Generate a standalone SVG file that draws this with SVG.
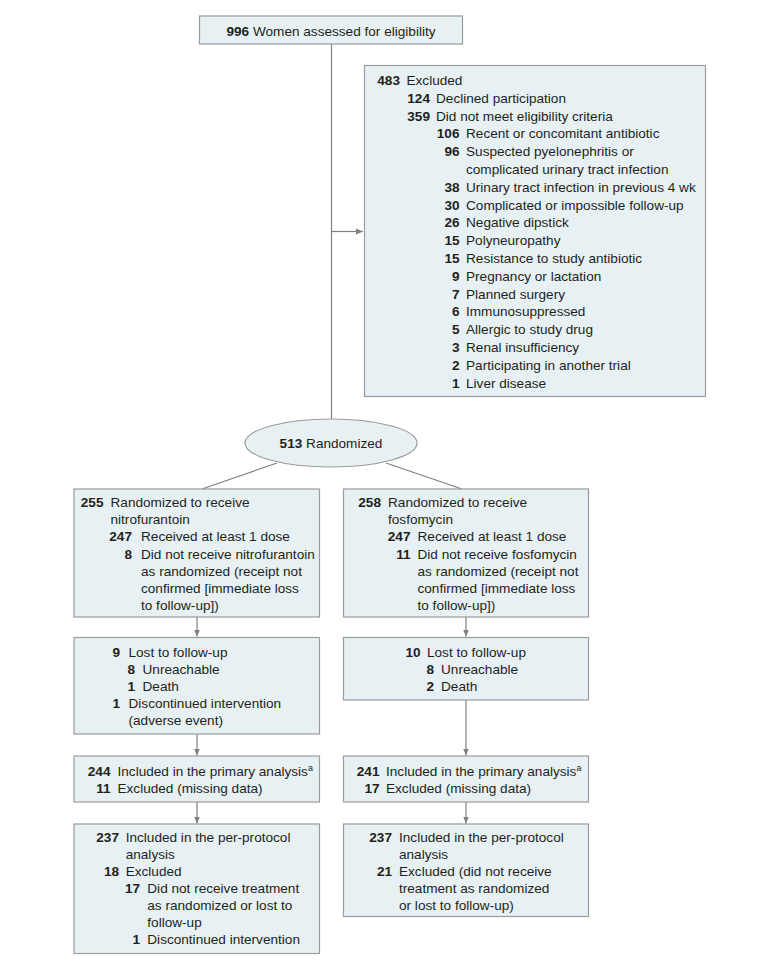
<svg xmlns="http://www.w3.org/2000/svg" width="780" height="966" viewBox="0 0 780 966">
<style>
.bx{fill:#e7f1f4;stroke:#9b9b9b;stroke-width:1.2}
.ln{stroke:#808080;stroke-width:1.2;fill:none}
text{font-family:"Liberation Sans",Arial,sans-serif;font-size:13.6px;fill:#231f20}
.n{font-weight:bold;text-anchor:end}
.c{text-anchor:middle}
.sup{font-size:9px}
</style>
<defs>
<marker id="ah" markerWidth="8" markerHeight="8" refX="7" refY="4" orient="auto" markerUnits="userSpaceOnUse">
<path d="M0,1 L7,4 L0,7 Z" fill="#808080"/>
</marker>
</defs>
<rect width="780" height="966" fill="#ffffff"/>
<g id="connectors">
<line class="ln" x1="331.5" y1="44" x2="331.5" y2="419"/>
<line class="ln" x1="331.5" y1="231.5" x2="363" y2="231.5" marker-end="url(#ah)"/>
<line class="ln" x1="277" y1="463" x2="202" y2="489"/>
<line class="ln" x1="386" y1="463" x2="462" y2="489"/>
<line class="ln" x1="197" y1="617" x2="197" y2="636.5" marker-end="url(#ah)"/>
<line class="ln" x1="197" y1="734" x2="197" y2="755.5" marker-end="url(#ah)"/>
<line class="ln" x1="197" y1="802" x2="197" y2="823.5" marker-end="url(#ah)"/>
<line class="ln" x1="466" y1="617" x2="466" y2="636.5" marker-end="url(#ah)"/>
<line class="ln" x1="466" y1="700" x2="466" y2="755.5" marker-end="url(#ah)"/>
<line class="ln" x1="466" y1="802" x2="466" y2="823.5" marker-end="url(#ah)"/>
</g>
<g id="assessed">
<rect class="bx" x="199.5" y="16" width="263" height="28"/>
<text class="c" x="331" y="35.5"><tspan font-weight="bold">996</tspan>  Women assessed for eligibility</text>
</g>
<g id="excluded">
<rect class="bx" x="364.5" y="65.5" width="341" height="331"/>
<text class="n" x="400" y="85">483</text><text x="406.5" y="85">Excluded</text>
<text class="n" x="430" y="102.8">124</text><text x="436" y="102.8">Declined participation</text>
<text class="n" x="430" y="120.6">359</text><text x="436" y="120.6">Did not meet eligibility criteria</text>
<text class="n" x="459.5" y="138.4">106</text><text x="466" y="138.4">Recent or concomitant antibiotic</text>
<text class="n" x="459.5" y="156.2">96</text><text x="466" y="156.2">Suspected pyelonephritis or</text>
<text x="466" y="174">complicated urinary tract infection</text>
<text class="n" x="459.5" y="191.8">38</text><text x="466" y="191.8">Urinary tract infection in previous 4 wk</text>
<text class="n" x="459.5" y="209.6">30</text><text x="466" y="209.6">Complicated or impossible follow-up</text>
<text class="n" x="459.5" y="227.4">26</text><text x="466" y="227.4">Negative dipstick</text>
<text class="n" x="459.5" y="245.2">15</text><text x="466" y="245.2">Polyneuropathy</text>
<text class="n" x="459.5" y="263">15</text><text x="466" y="263">Resistance to study antibiotic</text>
<text class="n" x="459.5" y="280.8">9</text><text x="466" y="280.8">Pregnancy or lactation</text>
<text class="n" x="459.5" y="298.6">7</text><text x="466" y="298.6">Planned surgery</text>
<text class="n" x="459.5" y="316.4">6</text><text x="466" y="316.4">Immunosuppressed</text>
<text class="n" x="459.5" y="334.2">5</text><text x="466" y="334.2">Allergic to study drug</text>
<text class="n" x="459.5" y="352">3</text><text x="466" y="352">Renal insufficiency</text>
<text class="n" x="459.5" y="369.8">2</text><text x="466" y="369.8">Participating in another trial</text>
<text class="n" x="459.5" y="387.6">1</text><text x="466" y="387.6">Liver disease</text>
</g>
<g id="randomized">
<ellipse class="bx" cx="331" cy="443" rx="86" ry="24"/>
<text class="c" x="331" y="447.5"><tspan font-weight="bold">513</tspan>  Randomized</text>
</g>
<g id="nitro-alloc">
<rect class="bx" x="74" y="489" width="245.5" height="128"/>
<text class="n" x="103.5" y="507">255</text><text x="110.5" y="507">Randomized to receive</text>
<text x="110.5" y="524.2">nitrofurantoin</text>
<text class="n" x="132" y="541.4">247</text><text x="141" y="541.4">Received at least 1 dose</text>
<text class="n" x="132" y="558.6">8</text><text x="141" y="558.6">Did not receive nitrofurantoin</text>
<text x="141" y="575.8">as randomized (receipt not</text>
<text x="141" y="593">confirmed [immediate loss</text>
<text x="141" y="610.2">to follow-up])</text>
</g>
<g id="fosfo-alloc">
<rect class="bx" x="343.5" y="489" width="245" height="128"/>
<text class="n" x="381" y="507">258</text><text x="388" y="507">Randomized to receive</text>
<text x="388" y="524.2">fosfomycin</text>
<text class="n" x="410.5" y="541.4">247</text><text x="417.5" y="541.4">Received at least 1 dose</text>
<text class="n" x="410.5" y="558.6">11</text><text x="417.5" y="558.6">Did not receive fosfomycin</text>
<text x="417.5" y="575.8">as randomized (receipt not</text>
<text x="417.5" y="593">confirmed [immediate loss</text>
<text x="417.5" y="610.2">to follow-up])</text>
</g>
<g id="nitro-followup">
<rect class="bx" x="74" y="637.5" width="245.5" height="96.5"/>
<text class="n" x="120" y="656.5">9</text><text x="128.5" y="656.5">Lost to follow-up</text>
<text class="n" x="135" y="673.7">8</text><text x="142.5" y="673.7">Unreachable</text>
<text class="n" x="135" y="690.9">1</text><text x="142.5" y="690.9">Death</text>
<text class="n" x="120" y="708.1">1</text><text x="128.5" y="708.1">Discontinued intervention</text>
<text x="128.5" y="725.3">(adverse event)</text>
</g>
<g id="fosfo-followup">
<rect class="bx" x="343.5" y="637.5" width="245" height="62.5"/>
<text class="n" x="420.5" y="656.5">10</text><text x="427" y="656.5">Lost to follow-up</text>
<text class="n" x="434" y="673.7">8</text><text x="441" y="673.7">Unreachable</text>
<text class="n" x="434" y="690.9">2</text><text x="441" y="690.9">Death</text>
</g>
<g id="nitro-primary">
<rect class="bx" x="74" y="756" width="245.5" height="46"/>
<text class="n" x="110.5" y="775.5">244</text><text x="117.5" y="775.5">Included in the primary analysis<tspan class="sup" dy="-5">a</tspan></text>
<text class="n" x="110.5" y="792.7">11</text><text x="117.5" y="792.7">Excluded (missing data)</text>
</g>
<g id="fosfo-primary">
<rect class="bx" x="343.5" y="756" width="245" height="46"/>
<text class="n" x="379.5" y="775.5">241</text><text x="386" y="775.5">Included in the primary analysis<tspan class="sup" dy="-5">a</tspan></text>
<text class="n" x="379.5" y="792.7">17</text><text x="386" y="792.7">Excluded (missing data)</text>
</g>
<g id="nitro-pp">
<rect class="bx" x="74" y="824" width="245.5" height="129.5"/>
<text class="n" x="119" y="842.3">237</text><text x="125.7" y="842.3">Included in the per-protocol</text>
<text x="125.7" y="859.2">analysis</text>
<text class="n" x="119" y="876.1">18</text><text x="125.7" y="876.1">Excluded</text>
<text class="n" x="140" y="893">17</text><text x="147.3" y="893">Did not receive treatment</text>
<text x="147.3" y="909.9">as randomized or lost to</text>
<text x="147.3" y="926.8">follow-up</text>
<text class="n" x="140" y="943.7">1</text><text x="147.3" y="943.7">Discontinued intervention</text>
</g>
<g id="fosfo-pp">
<rect class="bx" x="343.5" y="824" width="245" height="92.5"/>
<text class="n" x="392" y="842.3">237</text><text x="399" y="842.3">Included in the per-protocol</text>
<text x="399" y="859.2">analysis</text>
<text class="n" x="392" y="876.1">21</text><text x="399" y="876.1">Excluded (did not receive</text>
<text x="399" y="893">treatment as randomized</text>
<text x="399" y="909.9">or lost to follow-up)</text>
</g>
</svg>
